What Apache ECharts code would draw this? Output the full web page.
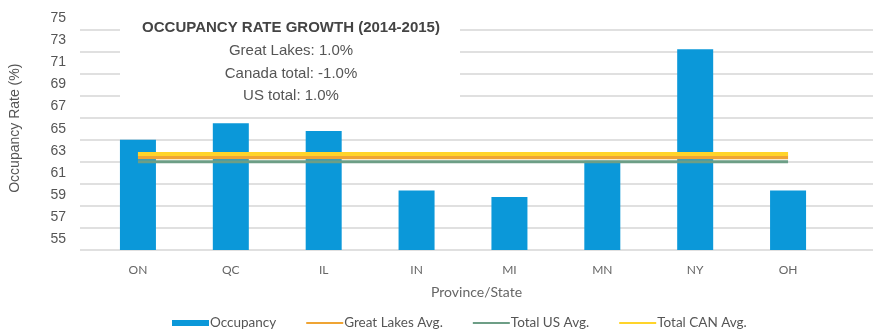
<!DOCTYPE html>
<html>
<head>
<meta charset="utf-8">
<script src="https://cdn.jsdelivr.net/npm/echarts@6/dist/echarts.min.js"></script>
<style>html,body{margin:0;padding:0;background:#fff;}#c{width:873px;height:331px;}</style>
</head>
<body>
<div id="c"></div>
<script>
const categories = ['ON', 'QC', 'IL', 'IN', 'MI', 'MN', 'NY', 'OH'];
const occupancy = [64.0, 65.5, 64.8, 59.4, 58.8, 62.1, 72.2, 59.4];
const greatLakesAvg = [62.4, 62.4, 62.4, 62.4, 62.4, 62.4, 62.4, 62.4];
const totalUSAvg = [62.0, 62.0, 62.0, 62.0, 62.0, 62.0, 62.0, 62.0];
const totalCANAvg = [62.7, 62.7, 62.7, 62.7, 62.7, 62.7, 62.7, 62.7];
const yTickLabels = [55, 57, 59, 61, 63, 65, 67, 69, 71, 73, 75];
const boxTitle = 'OCCUPANCY RATE GROWTH (2014-2015)';
const boxLines = ['Great Lakes: 1.0%', 'Canada total: -1.0%', 'US total: 1.0%'];

const chart = echarts.init(document.getElementById('c'), null, {renderer: 'canvas'});
const Y_MIN = 54, Y_MAX = 75;
const sans = "'Liberation Sans', Arial, sans-serif";
const xfont = "Lato, 'Open Sans', sans-serif";
const lineIcon = 'path://M0,0M0,2h38v2h-38zM38,6';

const option = {
  animation: false,
  backgroundColor: '#ffffff',
  grid: [
    {left: 80, right: 0, top: 18.4, bottom: 81},
    {left: 91.5, right: 38.5, top: 18.4, bottom: 81}
  ],
  xAxis: [
    {
      gridIndex: 0, type: 'category', data: categories,
      axisLine: {show: false}, axisTick: {show: false}, axisLabel: {show: false},
      name: 'Province/State', nameLocation: 'middle', nameGap: 35,
      nameTextStyle: {fontFamily: xfont, fontSize: 14, color: '#666'}
    },
    {
      gridIndex: 1, type: 'category', data: categories,
      axisLine: {show: false}, axisTick: {show: false},
      axisLabel: {fontFamily: xfont, fontSize: 12, color: '#666', margin: 14}
    }
  ],
  yAxis: [
    {
      gridIndex: 0, type: 'value', min: Y_MIN, max: Y_MAX, interval: 1,
      axisLine: {show: false}, axisTick: {show: false},
      axisLabel: {
        fontFamily: sans, fontSize: 14, color: '#555', margin: 14,
        formatter: v => yTickLabels.indexOf(v) >= 0 ? String(v) : ''
      },
      splitLine: {show: true, lineStyle: {color: ['#d6d6d6', 'rgba(0,0,0,0)'], width: 1.5}},
      name: 'Occupancy Rate (%)', nameLocation: 'middle', nameGap: 58,
      nameTextStyle: {fontFamily: sans, fontSize: 14, color: '#555', padding: [0, 0, 0, 12]}
    },
    {
      gridIndex: 1, type: 'value', min: Y_MIN, max: Y_MAX,
      axisLine: {show: false}, axisTick: {show: false}, axisLabel: {show: false},
      splitLine: {show: false}
    }
  ],
  legend: {
    left: 167, top: 311, itemWidth: 37, itemHeight: 6, itemGap: 30,
    textStyle: {fontFamily: xfont, fontSize: 13.5, color: '#555', padding: [0, 0, 0, -4]},
    data: [
      {name: 'Occupancy', icon: 'rect'},
      {name: 'Great Lakes Avg.', icon: lineIcon},
      {name: 'Total US Avg.', icon: lineIcon},
      {name: 'Total CAN Avg.', icon: lineIcon}
    ]
  },
  series: [
    {
      name: 'Occupancy', type: 'bar', xAxisIndex: 1, yAxisIndex: 1,
      data: occupancy, barWidth: 36, itemStyle: {color: '#0b98d9'}
    },
    {
      name: 'Great Lakes Avg.', type: 'line', xAxisIndex: 1, yAxisIndex: 1,
      data: greatLakesAvg, symbol: 'none', lineStyle: {color: '#efa434', width: 4}, itemStyle: {color: '#efa434'}
    },
    {
      name: 'Total US Avg.', type: 'line', xAxisIndex: 1, yAxisIndex: 1,
      data: totalUSAvg, symbol: 'none', lineStyle: {color: '#6d9e86', width: 3}, itemStyle: {color: '#6d9e86'}
    },
    {
      name: 'Total CAN Avg.', type: 'line', xAxisIndex: 1, yAxisIndex: 1,
      data: totalCANAvg, symbol: 'none', lineStyle: {color: '#ffd42a', width: 4}, itemStyle: {color: '#ffd42a'}
    }
  ],
  graphic: [
    {type: 'rect', left: 120, top: 0, shape: {width: 340, height: 108}, style: {fill: '#ffffff'}, z: 10},
    {type: 'text', x: 291, y: 28, z: 11, style: {text: boxTitle, font: "bold 15px 'Liberation Sans', Arial, sans-serif", fill: '#444', align: 'center', verticalAlign: 'middle'}},
    {type: 'text', x: 291, y: 51, z: 11, style: {text: boxLines[0], font: "15px 'Liberation Sans', Arial, sans-serif", fill: '#555', align: 'center', verticalAlign: 'middle'}},
    {type: 'text', x: 291, y: 73.5, z: 11, style: {text: boxLines[1], font: "15px 'Liberation Sans', Arial, sans-serif", fill: '#555', align: 'center', verticalAlign: 'middle'}},
    {type: 'text', x: 291, y: 96, z: 11, style: {text: boxLines[2], font: "15px 'Liberation Sans', Arial, sans-serif", fill: '#555', align: 'center', verticalAlign: 'middle'}}
  ]
};
chart.setOption(option);
</script>
</body>
</html>
